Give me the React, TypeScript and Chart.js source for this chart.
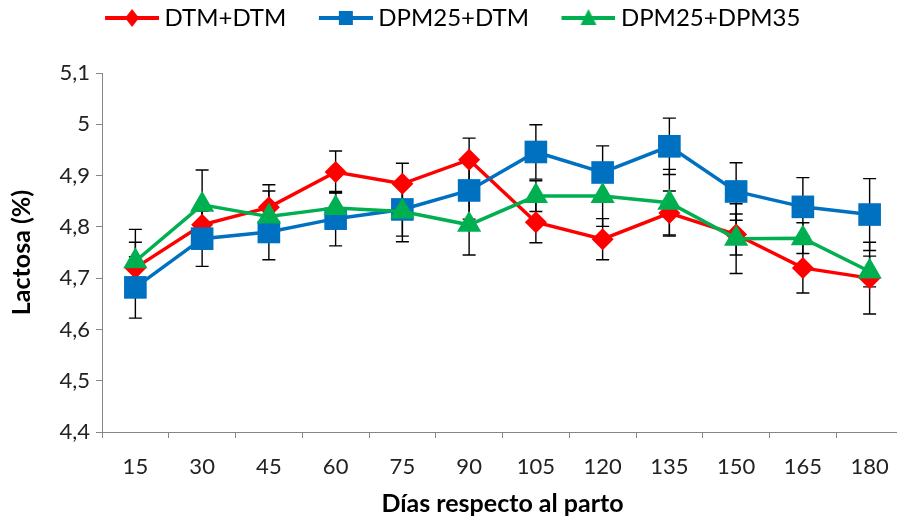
import React, { useEffect, useRef } from 'react';
import { Chart, registerables } from 'chart.js';

Chart.register(...registerables);

const days = ['15', '30', '45', '60', '75', '90', '105', '120', '135', '150', '165', '180'];

const seriesNames = ['DTM+DTM', 'DPM25+DTM', 'DPM25+DPM35'];

const dtmDtm = [4.72, 4.804, 4.838, 4.907, 4.884, 4.931, 4.809, 4.776, 4.827, 4.785, 4.72, 4.70];
const dtmDtmErr = [0.05, 0.035, 0.044, 0.041, 0.04, 0.042, 0.04, 0.04, 0.043, 0.04, 0.049, 0.07];

const dpm25Dtm = [4.682, 4.777, 4.79, 4.816, 4.834, 4.871, 4.946, 4.906, 4.957, 4.869, 4.839, 4.824];
const dpm25DtmErr = [0.06, 0.054, 0.054, 0.053, 0.052, 0.056, 0.053, 0.052, 0.055, 0.056, 0.057, 0.07];

const dpm25Dpm35 = [4.733, 4.843, 4.82, 4.837, 4.83, 4.804, 4.86, 4.86, 4.847, 4.777, 4.778, 4.713];
const dpm25Dpm35Err = [0.062, 0.068, 0.05, 0.03, 0.059, 0.059, 0.03, 0.059, 0.065, 0.068, 0.03, 0.03];

const yTicksMin = 4.4;
const yTicksMax = 5.1;
const yStep = 0.1;

const colors = ['#FF0000', '#0070C0', '#00B050'];
const markers = ['rectRot', 'rect', 'triangle'];
const markerRadius = [11, 16, 14];

const errorSets = [dtmDtmErr, dpm25DtmErr, dpm25Dpm35Err];

const FONT = 'Lato, "Liberation Sans", Arial, sans-serif';

const LEGEND_BOX = 74;
const LEGEND_IMG = LEGEND_BOX + 13;

function legendIcon(color: string, style: string) {
  const c = document.createElement('canvas');
  c.width = LEGEND_IMG;
  c.height = 24;
  const ctx = c.getContext('2d')!;
  const x0 = LEGEND_IMG - 54;
  const cx = x0 + 27;
  ctx.strokeStyle = color;
  ctx.fillStyle = color;
  ctx.lineWidth = 4;
  ctx.beginPath();
  ctx.moveTo(x0, 12);
  ctx.lineTo(LEGEND_IMG, 12);
  ctx.stroke();
  ctx.beginPath();
  if (style === 'rectRot') {
    ctx.moveTo(cx, 3);
    ctx.lineTo(cx + 7, 12);
    ctx.lineTo(cx, 21);
    ctx.lineTo(cx - 7, 12);
  } else if (style === 'rect') {
    ctx.rect(cx - 7, 5, 14, 14);
  } else {
    ctx.moveTo(cx, 3);
    ctx.lineTo(cx + 8, 19);
    ctx.lineTo(cx - 8, 19);
  }
  ctx.closePath();
  ctx.fill();
  return c;
}

const errorBarPlugin = {
  id: 'errorBars',
  beforeDatasetsDraw(chart: any) {
    const ctx = chart.ctx;
    const yScale = chart.scales.y;
    ctx.save();
    ctx.strokeStyle = '#000';
    ctx.lineWidth = 1.4;
    chart.data.datasets.forEach((ds: any, i: number) => {
      const meta = chart.getDatasetMeta(i);
      const errs = errorSets[i];
      meta.data.forEach((pt: any, j: number) => {
        const v = ds.data[j] as number;
        const e = errs[j];
        const yTop = yScale.getPixelForValue(v + e);
        const yBot = yScale.getPixelForValue(v - e);
        const x = pt.x;
        ctx.beginPath();
        ctx.moveTo(x, yTop);
        ctx.lineTo(x, yBot);
        ctx.moveTo(x - 6.5, yTop);
        ctx.lineTo(x + 6.5, yTop);
        ctx.moveTo(x - 6.5, yBot);
        ctx.lineTo(x + 6.5, yBot);
        ctx.stroke();
      });
    });
    ctx.restore();
  },
};

export default function App() {
  const ref = useRef<HTMLCanvasElement | null>(null);

  useEffect(() => {
    if (!ref.current) return;
    const values = [dtmDtm, dpm25Dtm, dpm25Dpm35];
    const chart = new Chart(ref.current, {
      type: 'line',
      data: {
        labels: days,
        datasets: values.map((d, i) => ({
          label: seriesNames[i],
          data: d,
          xAxisID: 'x',
          yAxisID: 'y',
          borderColor: colors[i],
          backgroundColor: colors[i],
          borderWidth: 3.5,
          pointStyle: markers[i] as any,
          pointRadius: markerRadius[i],
          pointBorderWidth: 0,
          pointBackgroundColor: colors[i],
          pointBorderColor: colors[i],
          tension: 0,
          order: 3 - i,
        })),
      },
      options: {
        responsive: false,
        animation: false,
        events: [],
        layout: { padding: { left: -40, right: 0, top: 0, bottom: 0 } },
        plugins: {
          tooltip: { enabled: false },
          legend: {
            position: 'top',
            labels: {
              usePointStyle: true,
              pointStyleWidth: LEGEND_BOX,
              boxHeight: 24,
              padding: 6,
              color: '#000',
              font: { family: FONT, size: 24 },
              sort: (a: any, b: any) => a.datasetIndex - b.datasetIndex,
              generateLabels: (chart: any) => {
                const base = Chart.defaults.plugins.legend.labels.generateLabels(chart);
                return base.map((l: any) => ({
                  ...l,
                  pointStyle: legendIcon(colors[l.datasetIndex], markers[l.datasetIndex]),
                }));
              },
            },
          },
        },
        scales: {
          x: {
            type: 'category',
            offset: true,
            grid: {
              offset: true,
              display: true,
              drawOnChartArea: false,
              drawTicks: true,
              tickLength: 6,
              color: '#868686',
            },
            border: { color: '#868686', width: 1 },
            ticks: {
              color: '#222',
              font: { family: FONT, size: 22 },
              padding: 16,
              maxRotation: 0,
              autoSkip: false,
            },
            title: {
              display: true,
              text: 'Días respecto al parto',
              color: '#000',
              font: { family: FONT, size: 25, weight: 'bold' },
              padding: { top: 0, bottom: 0 },
            },
            afterFit: (scale: any) => {
              scale.height = 87;
              scale.paddingLeft = 0;
              scale.paddingRight = 0;
            },
          },
          y: {
            min: yTicksMin,
            max: yTicksMax,
            grid: {
              display: true,
              drawOnChartArea: false,
              drawTicks: true,
              tickLength: 6,
              color: '#868686',
            },
            border: { color: '#868686', width: 1 },
            ticks: {
              stepSize: yStep,
              color: '#222',
              font: { family: FONT, size: 22 },
              padding: 6,
              callback: (v: any) => String(Math.round(Number(v) * 10) / 10).replace('.', ','),
            },
            title: {
              display: true,
              text: 'Lactosa (%)',
              color: '#000',
              font: { family: FONT, size: 25, weight: 'bold' },
              padding: { top: 47, bottom: 0 },
            },
            afterFit: (scale: any) => {
              scale.width = 142;
            },
          },
          spacer: {
            type: 'category',
            axis: 'x',
            position: 'top',
            display: true,
            grid: { display: false },
            border: { display: false },
            ticks: { display: false },
            afterFit: (scale: any) => {
              scale.height = 33;
              scale.paddingLeft = 0;
              scale.paddingRight = 0;
            },
          },
        },
      },
      plugins: [errorBarPlugin],
    });
    return () => chart.destroy();
  }, []);

  return (
    <div
      style={{
        position: 'fixed',
        left: 0,
        top: 0,
        width: 897,
        height: 519,
        overflow: 'hidden',
        background: '#fff',
      }}
    >
      <canvas ref={ref} width={919} height={519} style={{ width: 919, height: 519, display: 'block' }} />
    </div>
  );
}
